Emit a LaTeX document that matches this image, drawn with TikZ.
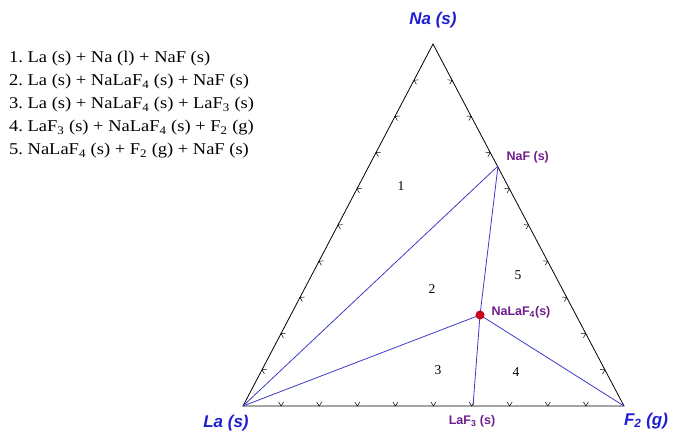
\documentclass[tikz,border=0pt]{standalone}
\usepackage{fontspec}
\setmainfont{Liberation Serif}
\newfontfamily\arialfont{Liberation Sans}
\usepackage{xcolor}
\usetikzlibrary{calc}

\definecolor{tieblue}{RGB}{60,60,200}
\definecolor{cornerblue}{RGB}{30,30,210}
\definecolor{phasepurple}{RGB}{110,30,140}
\definecolor{dotred}{RGB}{200,0,30}

\tikzset{
  edge/.style={black, line width=0.8pt},
  tieline/.style={tieblue, line width=0.8pt},
  tickmark/.style={black, line width=0.5pt},
  corner/.style={cornerblue, font=\arialfont\bfseries\itshape\fontsize{17}{17}\selectfont},
  phase/.style={phasepurple, font=\arialfont\bfseries\fontsize{12.5}{13}\selectfont},
  region/.style={font=\fontsize{13.5}{14}\selectfont}
}

\begin{document}
\begin{tikzpicture}[x=1pt, y=1pt]
  \useasboundingbox (0,0) rectangle (673,432);

  % corners of the triangle
  \coordinate (la) at (243,26);
  \coordinate (f2) at (624,26);
  \coordinate (na) at (433,388);
  % compounds
  \coordinate (naf) at (498,266);
  \coordinate (laf3) at (473,26);
  \coordinate (nalaf4) at (480,117);

  \draw[edge] (la) -- (f2) -- (na) -- cycle;

  % ticks on the sides
  \foreach \a/\b/\r in {la/f2/0, f2/na/117.8, na/la/242.2}
    \foreach \i in {1,...,9}
      \draw[tickmark, shift={($(\a)!\i/10!(\b)$)}, rotate=\r] (-2.5,4) -- (0,0) -- (2.5,4);

  % tie lines
  \draw[tieline] (la) -- (naf);
  \draw[tieline] (la) -- (nalaf4);
  \draw[tieline] (naf) -- (nalaf4) -- (laf3);
  \draw[tieline] (nalaf4) -- (f2);
  \fill[dotred] (nalaf4) circle (4.5);

  % labels
  \node[corner] (lana) at (433,412) {Na (s)};
  \node[corner] (lala) at (226,9) {La (s)};
  \node[corner] (laf2) at (646,11) {F\textsubscript{2} (g)};
  \node[phase, anchor=west] (lnaf) at (503,275) {NaF (s)};
  \node[phase, anchor=west] (lnalaf4) at (488,120) {NaLaF\textsubscript{4}(s)};
  \node[phase] (llaf3) at (472,11) {LaF\textsubscript{3} (s)};

  \node[region] (r1) at (401,246) {1};
  \node[region] (r2) at (432,143) {2};
  \node[region] (r3) at (438,62) {3};
  \node[region] (r4) at (516,60) {4};
  \node[region] (r5) at (518,157) {5};

  % legend
  \node[anchor=north west, align=left, inner sep=0pt, transform shape, xscale=1.12,
        font=\fontsize{16.5}{23}\selectfont] (legend) at (9,381) {%
    1.\ La (s) + Na (l) + NaF (s)\\
    2.\ La (s) + NaLaF\textsubscript{4} (s) + NaF (s)\\
    3.\ La (s) + NaLaF\textsubscript{4} (s) + LaF\textsubscript{3} (s)\\
    4.\ LaF\textsubscript{3} (s) + NaLaF\textsubscript{4} (s) + F\textsubscript{2} (g)\\
    5.\ NaLaF\textsubscript{4} (s) + F\textsubscript{2} (g) + NaF (s)};
\end{tikzpicture}
\end{document}
